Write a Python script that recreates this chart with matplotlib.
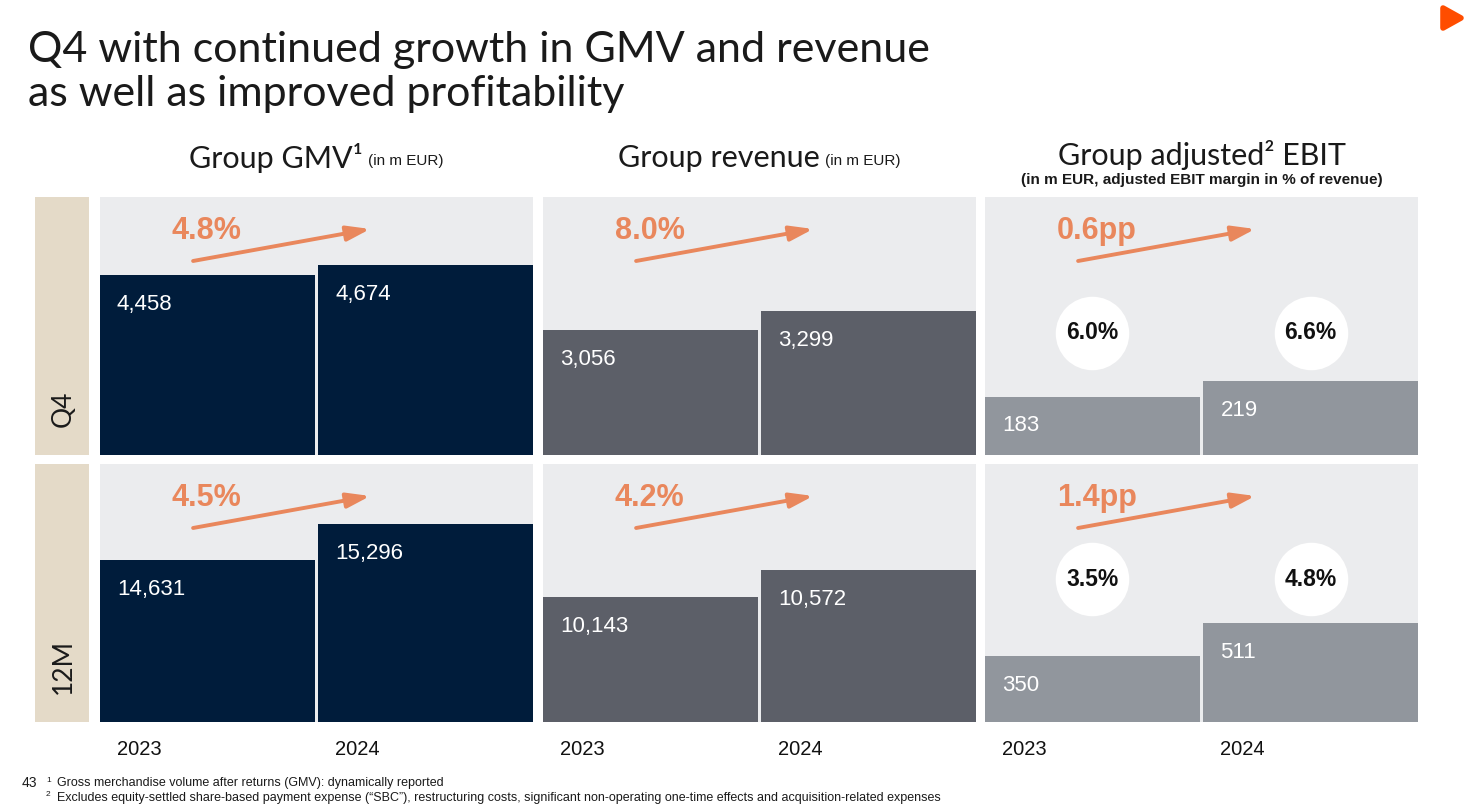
import numpy as np
import matplotlib
matplotlib.use('Agg')
from matplotlib import pyplot as plt
from matplotlib.patches import Polygon

# Data
years = ['2023', '2024']
periods = ['Q4', '12M']

gmv = {'Q4': [4458, 4674], '12M': [14631, 15296]}
revenue = {'Q4': [3056, 3299], '12M': [10143, 10572]}
ebit = {'Q4': [183, 219], '12M': [350, 511]}
ebit_margin = {'Q4': [6.0, 6.6], '12M': [3.5, 4.8]}

growth_gmv = {'Q4': '4.8%', '12M': '4.5%'}
growth_revenue = {'Q4': '8.0%', '12M': '4.2%'}
growth_ebit = {'Q4': '0.6pp', '12M': '1.4pp'}

# Colours
navy = '#001C3B'
rev_grey = '#5C5F68'
ebit_grey = '#91969D'
panel_bg = '#EBECEE'
beige = '#E4DAC8'
orange = '#E9875C'
ink = '#1a1a1a'

W, H = 1469, 811
fig = plt.figure(figsize=(W / 100, H / 100), dpi=100)
fig.patch.set_facecolor('white')

title_font = 'Lato'
title_weight = 'normal'
num_font = 'Liberation Sans'


def fx(px):
    return px / W


def fy(py):
    return 1 - py / H


# Panel layout (pixels)
panel_left = [100, 543, 985]
panel_w = 433
row_top = {'Q4': 197, '12M': 464}
row_h = 258

# Axis limits per panel (only layout)
ylims = {
    ('gmv', 'Q4'): (570, 6143), ('gmv', '12M'): (11638, 16404),
    ('rev', 'Q4'): (1457, 4757), ('rev', '12M'): (8157, 12256),
    ('ebit', 'Q4'): (52, 633), ('ebit', '12M'): (28, 1287),
}

metrics = [
    ('gmv', gmv, growth_gmv, navy),
    ('rev', revenue, growth_revenue, rev_grey),
    ('ebit', ebit, growth_ebit, ebit_grey),
]

x = np.arange(len(years))
bar_w = 0.982

for period in periods:
    top = row_top[period]
    # side label
    sax = fig.add_axes([fx(35), fy(top + row_h), fx(54), row_h / H])
    sax.set_facecolor(beige)
    sax.set_xticks([])
    sax.set_yticks([])
    for s in sax.spines.values():
        s.set_visible(False)
    sax.text(0.52, 0.11, period, rotation=90, ha='center', va='bottom',
             transform=sax.transAxes, fontsize=19, family=title_font,
             fontweight=title_weight, color=ink)

    for i, (key, values, growth, color) in enumerate(metrics):
        ax = fig.add_axes([fx(panel_left[i]), fy(top + row_h), fx(panel_w), row_h / H])
        ax.set_facecolor(panel_bg)
        vals = values[period]
        ax.bar(x, vals, width=bar_w, color=color, zorder=2)
        ax.set_xlim(-bar_w / 2, 1 + bar_w / 2)
        ax.set_ylim(*ylims[(key, period)])
        ax.set_xticks([])
        ax.set_yticks([])
        for s in ax.spines.values():
            s.set_visible(False)

        # value labels inside bars
        for xi, v in zip(x, vals):
            ax.annotate(f'{v:,}', xy=(xi - bar_w / 2, v), xytext=(12.2, -21),
                        textcoords='offset points', ha='left', va='center',
                        color='white', fontsize=16, family=num_font, zorder=3)

        # growth arrow and label
        ax.annotate('', xy=(0.624, 0.876), xytext=(0.215, 0.752),
                    xycoords='axes fraction',
                    arrowprops=dict(arrowstyle='-|>,head_length=1.4,head_width=0.45',
                                    color=orange, lw=2.8, shrinkA=0, shrinkB=0))
        ax.text(0.166, 0.868, growth[period], transform=ax.transAxes,
                ha='left', va='center', color=orange, fontsize=22,
                fontweight='bold', family=num_font)

        # margin bubbles for EBIT
        if key == 'ebit':
            cy = 0.473 if period == 'Q4' else 0.554
            trans = ax.get_xaxis_transform()
            ax.scatter(x, [cy, cy], s=2800, color='white', transform=trans,
                       zorder=4, linewidths=0)
            for xi, m in zip(x, ebit_margin[period]):
                ax.text(xi, cy, f'{m:.1f}%', transform=trans, ha='center',
                        va='center', fontsize=16.5, fontweight='bold',
                        family=num_font, color='#111111', zorder=5)

        # year labels under the bottom row
        if period == '12M':
            for xi, yr in zip(x, years):
                ax.annotate(yr, xy=(xi - bar_w / 2, 0), xycoords=('data', 'axes fraction'),
                            xytext=(12.2, -20), textcoords='offset points',
                            ha='left', va='center', fontsize=14.5,
                            family=num_font, color='#111111')

# Title
fig.text(fx(28), fy(50), 'Q4 with continued growth in GMV and revenue',
         fontsize=31, family=title_font, fontweight=title_weight, color=ink,
         va='center', ha='left')
fig.text(fx(28), fy(94), 'as well as improved profitability',
         fontsize=31, family=title_font, fontweight=title_weight, color=ink,
         va='center', ha='left')

# Panel headers
headers = [
    ('Group GMV¹', '(in m EUR)'),
    ('Group revenue', '(in m EUR)'),
]
head_texts = []
for i, (main, sub) in enumerate(headers):
    t1 = fig.text(0, fy(158), main, fontsize=22, family=title_font,
                  fontweight=title_weight, color=ink, va='center', ha='left')
    t2 = fig.text(0, fy(161), sub, fontsize=11, family=num_font,
                  color=ink, va='center', ha='left')
    head_texts.append((i, t1, t2))

fig.text(fx(panel_left[2] + panel_w / 2), fy(155), 'Group adjusted² EBIT',
         fontsize=22, family=title_font, fontweight=title_weight, color=ink,
         va='center', ha='center')
fig.text(fx(panel_left[2] + panel_w / 2), fy(180),
         '(in m EUR, adjusted EBIT margin in % of revenue)',
         fontsize=11, family=num_font, fontweight='bold', color=ink,
         va='center', ha='center')

fig.canvas.draw()
r = fig.canvas.get_renderer()
gap = 5
for i, t1, t2 in head_texts:
    w1 = t1.get_window_extent(r).width
    w2 = t2.get_window_extent(r).width
    left = panel_left[i] + panel_w / 2 - (w1 + gap + w2) / 2
    t1.set_x(fx(left))
    t2.set_x(fx(left + w1 + gap))

# Footnotes
fig.text(fx(22), fy(783), '43', fontsize=10, family=num_font, color=ink,
         va='center', ha='left')
fig.text(fx(46), fy(780), '1', fontsize=6, family=num_font, color=ink,
         va='center', ha='left')
fig.text(fx(57), fy(783), 'Gross merchandise volume after returns (GMV): dynamically reported',
         fontsize=9, family=num_font, color=ink, va='center', ha='left')
fig.text(fx(46), fy(795), '2', fontsize=6, family=num_font, color=ink,
         va='center', ha='left')
fig.text(fx(57), fy(798),
         'Excludes equity-settled share-based payment expense (\u201cSBC\u201d), restructuring costs, '
         'significant non-operating one-time effects and acquisition-related expenses',
         fontsize=9, family=num_font, color=ink, va='center', ha='left')

# Logo
logo = Polygon([(fx(1443), fy(8)), (fx(1461), fy(18)), (fx(1443), fy(28))],
               closed=True, transform=fig.transFigure, facecolor='#FF4D00',
               edgecolor='#FF4D00', lw=4, joinstyle='round')
fig.patches.append(logo)

fig.savefig('out.png', dpi=100, facecolor='white')
